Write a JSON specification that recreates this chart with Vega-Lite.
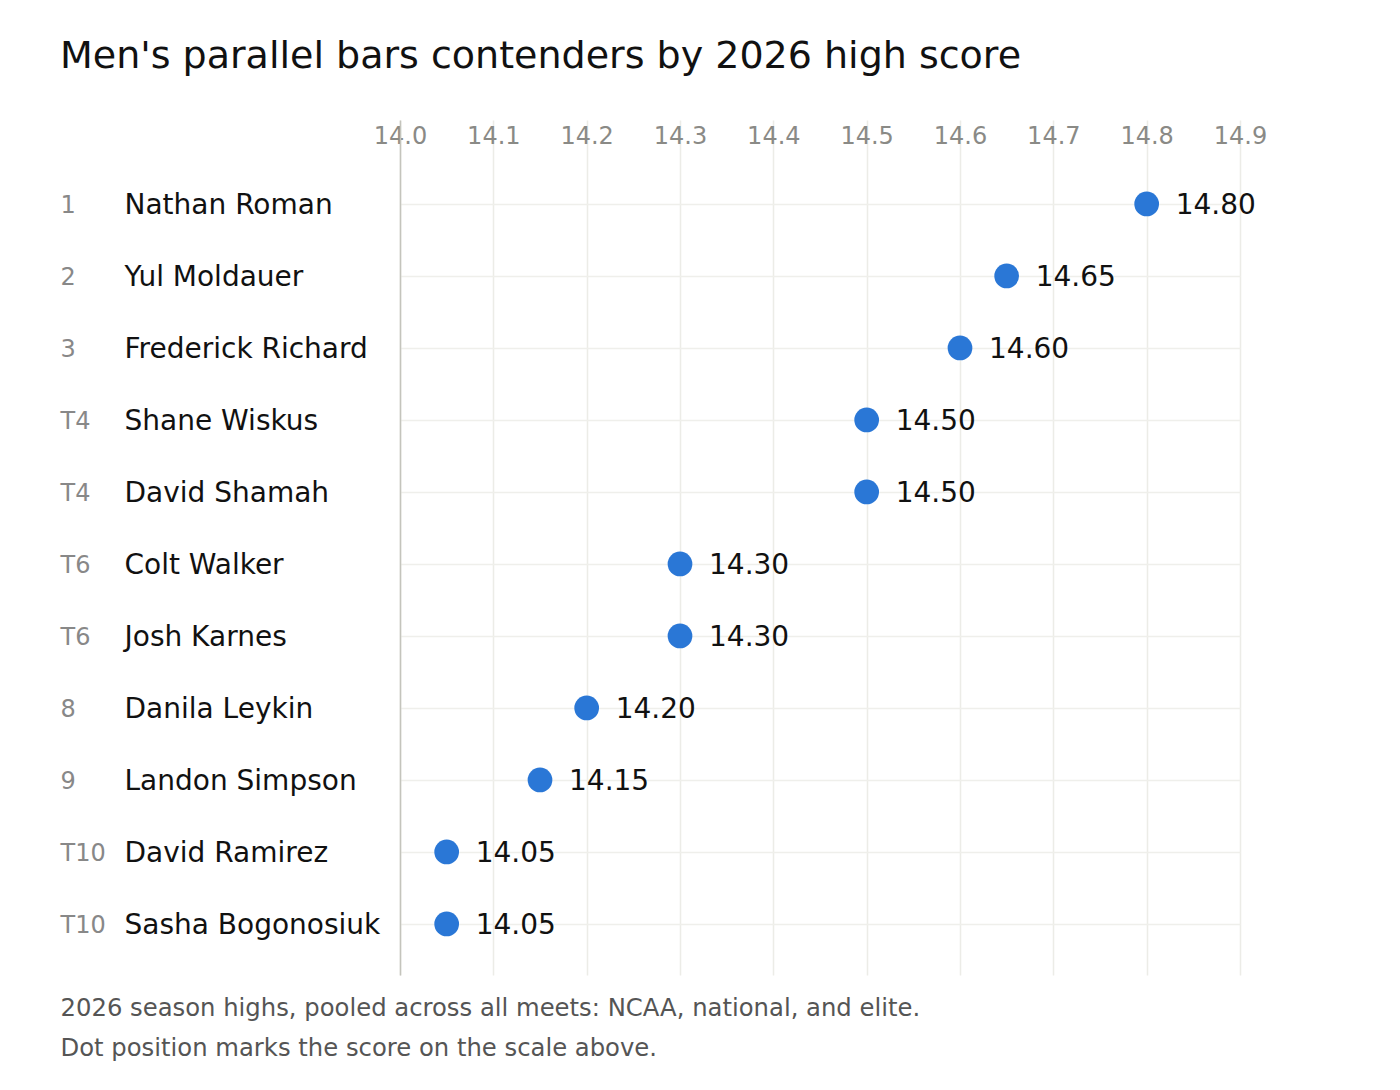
{
  "$schema": "https://vega.github.io/schema/vega-lite/v6.json",
  "background": "white",
  "autosize": {"type": "none"},
  "padding": {"left": 400, "top": 120, "right": 160, "bottom": 115},
  "width": 840,
  "height": 855,
  "title": {
    "text": "Men's parallel bars contenders by 2026 high score",
    "anchor": "start",
    "frame": "bounds",
    "font": "DejaVu Sans",
    "fontSize": 38,
    "fontWeight": "normal",
    "color": "#111111",
    "offset": 44
  },
  "data": {
    "values": [
      {"entry": "1|Nathan Roman", "score": 14.80},
      {"entry": "2|Yul Moldauer", "score": 14.65},
      {"entry": "3|Frederick Richard", "score": 14.60},
      {"entry": "T4|Shane Wiskus", "score": 14.50},
      {"entry": "T4|David Shamah", "score": 14.50},
      {"entry": "T6|Colt Walker", "score": 14.30},
      {"entry": "T6|Josh Karnes", "score": 14.30},
      {"entry": "8|Danila Leykin", "score": 14.20},
      {"entry": "9|Landon Simpson", "score": 14.15},
      {"entry": "T10|David Ramirez", "score": 14.05},
      {"entry": "T10|Sasha Bogonosiuk", "score": 14.05}
    ]
  },
  "layer": [
    {
      "mark": {"type": "point", "filled": true, "size": 610, "opacity": 1, "color": "#2a77d6"},
      "encoding": {
        "y": {
          "field": "entry",
          "type": "nominal",
          "sort": null,
          "scale": {"type": "point", "padding": 0.9375, "align": 0.622},
          "axis": {
            "orient": "left",
            "title": null,
            "ticks": false,
            "tickSize": 0,
            "labelPadding": 276,
            "labelOffset": 2,
            "labelAlign": "left",
            "labelBaseline": "middle",
            "labelFontSize": 28,
            "labelColor": "#111111",
            "labelLimit": 400,
            "labelExpr": "split(datum.value, '|')[1]",
            "domain": true,
            "domainColor": "#c4c4bc",
            "domainWidth": 1.5,
            "grid": true,
            "gridColor": "#efefeb",
            "gridWidth": 1.5
          }
        },
        "x": {
          "field": "score",
          "type": "quantitative",
          "scale": {"domain": [14.0, 14.9], "nice": false, "zero": false},
          "axis": {
            "orient": "top",
            "title": null,
            "values": [14.0, 14.1, 14.2, 14.3, 14.4, 14.5, 14.6, 14.7, 14.8, 14.9],
            "format": ".1f",
            "offset": -23,
            "ticks": false,
            "tickSize": 0,
            "domain": false,
            "labelPadding": 0,
            "labelBaseline": "alphabetic",
            "labelFlush": false,
            "labelOverlap": false,
            "labelFontSize": 24,
            "labelColor": "#8a8a86",
            "grid": true,
            "gridColor": "#ececE7",
            "gridWidth": 1.5
          }
        }
      }
    },
    {
      "mark": {"type": "text", "align": "left", "baseline": "middle", "dx": 29, "dy": 2, "fontSize": 28, "color": "#111111"},
      "encoding": {
        "y": {
          "field": "entry",
          "type": "nominal",
          "sort": null,
          "axis": {
            "orient": "left",
            "title": null,
            "ticks": false,
            "tickSize": 0,
            "labelPadding": 340,
            "labelOffset": 2,
            "labelAlign": "left",
            "labelBaseline": "middle",
            "labelFontSize": 24,
            "labelColor": "#888888",
            "labelExpr": "split(datum.value, '|')[0]",
            "domain": false,
            "grid": false
          }
        },
        "x": {
          "field": "score",
          "type": "quantitative",
          "axis": {
            "orient": "bottom",
            "labels": false,
            "ticks": false,
            "domain": false,
            "grid": false,
            "title": ["2026 season highs, pooled across all meets: NCAA, national, and elite.", "Dot position marks the score on the scale above."],
            "titleX": -340,
            "titleY": 40,
            "titleAlign": "left",
            "titleAngle": 0,
            "titleBaseline": "alphabetic",
            "titleLineHeight": 40,
            "titleFontSize": 24.3,
            "titleFontWeight": "normal",
            "titleColor": "#555555"
          }
        },
        "text": {"field": "score", "type": "quantitative", "format": ".2f"}
      }
    }
  ],
  "resolve": {"axis": {"x": "independent", "y": "independent"}},
  "config": {
    "font": "DejaVu Sans",
    "view": {"stroke": null}
  }
}
